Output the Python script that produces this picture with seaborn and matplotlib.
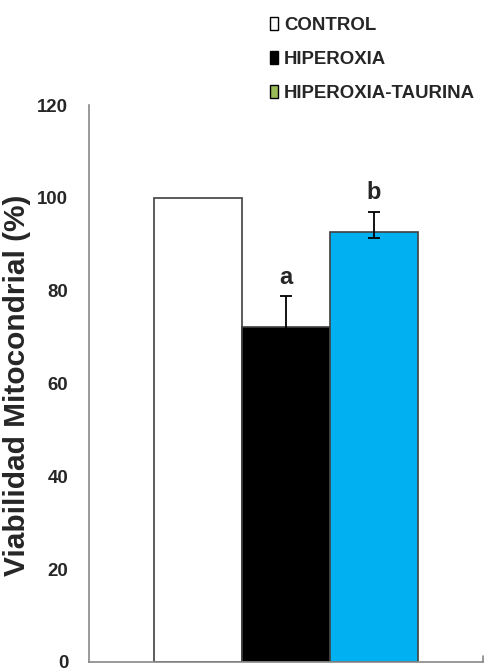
import matplotlib
matplotlib.use('Agg')
import matplotlib.pyplot as plt
import seaborn as sns
import pandas as pd
from matplotlib.patches import Patch
from matplotlib import font_manager as fm

# data
groups = ['CONTROL', 'HIPEROXIA', 'HIPEROXIA-TAURINA']
viability = [100, 72.2, 92.7]
err_low = [0, 6.6, 1.3]
err_high = [0, 6.6, 4.3]
letters = ['', 'a', 'b']
bar_colors = ['#FFFFFF', '#000000', '#00B0F0']
legend_colors = ['#FFFFFF', '#000000', '#9BBB59']

sns.set_style('white')

# the original looks vertically stretched: use a narrow bold face for horizontal text if present
try:
    fm.findfont(fm.FontProperties(family='Liberation Sans Narrow', weight='bold'), fallback_to_default=False)
    narrow = 'Liberation Sans Narrow'
    tick_size, leg_size, leg_space = 16.3, 16.3, 0.6
except Exception:
    narrow = 'Liberation Sans'
    tick_size, leg_size, leg_space = 13.4, 13.4, 0.9
plt.rcParams['font.family'] = ['Liberation Sans', 'DejaVu Sans']

df = pd.DataFrame({'group': groups, 'value': viability})

fig = plt.figure(figsize=(4.91, 6.70), dpi=100)
ax = fig.add_axes([89 / 491, 8 / 670, 394 / 491, 557 / 670])

sns.barplot(data=df, x='group', y='value', hue='group', palette=bar_colors, saturation=1,
            width=1.0, edgecolor='#404040', linewidth=1.2, legend=False, ax=ax)

# error bars only where there is a spread
idx = [i for i in range(len(groups)) if err_high[i] > 0]
ax.errorbar(idx, [viability[i] for i in idx],
            yerr=[[err_low[i] for i in idx], [err_high[i] for i in idx]], fmt='none',
            ecolor='black', elinewidth=1.3, capsize=4.5, capthick=1.3)

for i, lab in enumerate(letters):
    if lab:
        ax.text(i, viability[i] + err_high[i] + 1.6, lab, ha='center', va='bottom',
                fontsize=17, fontweight='bold')

ax.set_ylim(0, 120)
ax.set_xlim(-1.24, 3.24)
ax.set_yticks([0, 20, 40, 60, 80, 100, 120])
ax.set_xticks([])
ax.set_xlabel('')
ax.tick_params(axis='y', direction='in', length=5, width=1.2, color='#888888', pad=15)
ax.set_yticklabels([str(v) for v in [0, 20, 40, 60, 80, 100, 120]],
                   family=[narrow, 'DejaVu Sans'], fontweight='bold', fontsize=tick_size)

ax.set_ylabel('Viabilidad Mitocondrial (%)', fontsize=21.5, fontweight='bold')
ax.yaxis.set_label_coords(-0.148, 0.497)

for side in ['top', 'right']:
    ax.spines[side].set_visible(False)
for side in ['left', 'bottom']:
    ax.spines[side].set_color('#888888')
    ax.spines[side].set_linewidth(1.2)
# small tick at the right end of the x axis
ax.plot([3.24, 3.24], [0, 1.2], color='#888888', lw=1.2, clip_on=False)

handles = [Patch(facecolor=c, edgecolor='black', linewidth=1.0) for c in legend_colors]
fig.legend(handles, groups, loc='upper left', bbox_to_anchor=(257 / 491, 1 - 4 / 670),
           frameon=False, prop={'family': [narrow, 'DejaVu Sans'], 'weight': 'bold', 'size': leg_size},
           handlelength=0.45, handleheight=0.7, handletextpad=0.3, labelspacing=leg_space,
           borderpad=0.2)

fig.savefig('out.png', dpi=100)
